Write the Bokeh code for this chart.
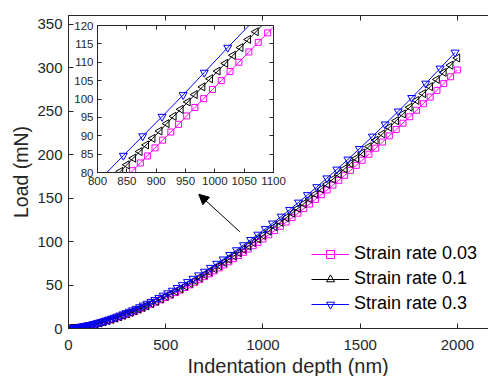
import numpy as np
from bokeh.plotting import figure
from bokeh.models import (Range1d, LinearAxis, FixedTicker, Title, Arrow, NormalHead,
                          Legend, LegendItem, ColumnDataSource, CDSView, IndexFilter,
                          CustomLabelingPolicy)
from bokeh.embed import file_html
from bokeh.resources import INLINE

FONT = "Liberation Sans"
TXT = "#262626"

# ---------------- data ----------------
depth_a = [0, 5, 10, 15, 20, 30, 40, 50, 60, 70, 80, 90, 100, 120, 140, 160, 180, 200, 220, 240,
           260, 280, 300, 320, 340, 360, 380, 400, 425, 450, 475, 500, 525, 550, 575, 600, 625,
           650, 675, 700, 725, 750, 775, 800, 825, 850, 875, 900, 925, 950, 975, 1000, 1030,
           1060, 1090, 1120, 1150, 1180, 1210, 1240, 1270, 1300, 1330, 1360, 1390, 1420, 1450,
           1480, 1510, 1545, 1580, 1615, 1650, 1685, 1720, 1755, 1790, 1825, 1860, 1895, 1930,
           1965, 2000]
load_003 = [0.0, 0.03, 0.09, 0.17, 0.26, 0.48, 0.75, 1.05, 1.39, 1.76, 2.16, 2.59, 3.04, 4.02,
            5.09, 6.24, 7.47, 8.78, 10.16, 11.60, 13.11, 14.69, 16.32, 18.02, 19.77, 21.58,
            23.44, 25.36, 27.81, 30.35, 32.98, 35.67, 38.43, 41.27, 44.17, 47.14, 50.18, 53.28,
            56.45, 59.68, 62.97, 66.32, 69.74, 73.21, 76.74, 80.33, 83.97, 87.65, 91.41, 95.22,
            99.09, 103.0, 107.77, 112.61, 117.52, 122.49, 127.57, 132.68, 137.88, 143.15, 148.48,
            153.89, 159.35, 164.88, 170.47, 176.15, 181.86, 187.64, 193.50, 200.40, 207.38,
            214.45, 221.62, 228.87, 236.15, 243.55, 251.02, 258.56, 266.19, 273.89, 281.66,
            289.52, 297.42]
load_01 = [0.0, 0.03, 0.09, 0.17, 0.26, 0.48, 0.75, 1.06, 1.40, 1.78, 2.19, 2.63, 3.09, 4.09,
           5.19, 6.36, 7.63, 8.97, 10.39, 11.88, 13.44, 15.07, 16.76, 18.51, 20.32, 22.18, 24.12,
           26.10, 28.64, 31.29, 34.00, 36.81, 39.66, 42.63, 45.63, 48.74, 51.89, 55.14, 58.43,
           61.77, 65.24, 68.71, 72.25, 75.92, 79.58, 83.30, 87.16, 90.98, 94.88, 98.84, 102.95,
           107.02, 111.97, 117.11, 122.22, 127.39, 132.67, 138.12, 143.53, 149.02, 154.57,
           160.35, 166.04, 171.80, 177.63, 183.72, 189.68, 195.71, 201.82, 209.22, 216.50,
           223.89, 231.37, 238.94, 246.78, 254.51, 262.32, 270.20, 278.17, 286.49, 294.62,
           302.84, 311.10]
depth_b = [0, 2, 4, 7, 11, 15, 20, 25, 30, 36, 42, 48, 55, 62, 70, 78, 86, 95, 104, 114, 124,
           134, 145, 156, 168, 180, 193, 206, 220, 234, 249, 264, 280, 296, 313, 330, 348, 366,
           385, 404, 424, 444, 465, 487, 510, 534, 559, 585, 612, 640, 669, 699, 730, 762, 795,
           829, 864, 900, 937, 974, 1012, 1049, 1094, 1137, 1183, 1229, 1277, 1329, 1380, 1437,
           1496, 1563, 1628, 1696, 1765, 1837, 1911, 1988]
load_03 = [0.0, 0.01, 0.03, 0.06, 0.12, 0.20, 0.31, 0.43, 0.56, 0.74, 0.94, 1.15, 1.41, 1.69,
           2.03, 2.39, 2.77, 3.22, 3.69, 4.24, 4.81, 5.41, 6.09, 6.80, 7.61, 8.45, 9.38, 10.36,
           11.44, 12.55, 13.79, 15.06, 16.46, 17.90, 19.47, 21.09, 22.85, 24.66, 26.62, 28.63,
           30.79, 33.01, 35.40, 37.96, 40.70, 43.62, 46.75, 50.07, 53.60, 57.34, 61.31, 65.52,
           69.95, 74.63, 79.57, 84.76, 90.21, 95.94, 101.97, 108.11, 114.54, 120.92, 128.84,
           136.57, 145.00, 153.60, 162.74, 172.84, 182.97, 194.50, 206.69, 220.84, 234.86,
           249.81, 265.32, 281.78, 299.12, 317.50]

inset_depth_003 = [850, 860, 873, 885, 898, 911, 925, 938, 952, 966, 981, 996, 1011, 1026, 1041,
                   1058, 1074, 1090, 1106]
inset_load_003 = [78.9, 80.5, 82.6, 84.5, 86.7, 88.8, 91.0, 93.1, 95.4, 97.7, 100.1, 102.6, 105.0,
                  107.5, 110.0, 112.8, 115.4, 118.0, 120.6]
inset_depth_01 = [825, 839, 850, 861, 872, 883, 894, 906, 918, 930, 942, 954, 966, 979, 992, 1005,
                  1018, 1031, 1044, 1057, 1070, 1085]
inset_load_01 = [78.0, 80.3, 82.1, 83.9, 85.7, 87.5, 89.3, 91.3, 93.3, 95.3, 97.2, 99.2, 101.2,
                 103.3, 105.5, 107.6, 109.7, 111.9, 114.0, 116.2, 118.3, 120.8]
inset_depth_03 = [805, 844, 877, 910, 946, 982, 1022, 1066]
inset_load_03 = [78.2, 84.6, 89.9, 95.2, 101.1, 107.2, 114.0, 121.3]

x_ticks = [0, 500, 1000, 1500, 2000]
y_ticks = [0, 50, 100, 150, 200, 250, 300, 350]
inset_x_ticks = [800, 850, 900, 950, 1000, 1050, 1100]
inset_y_ticks = [80, 85, 90, 95, 100, 105, 110, 115, 120]
legend_labels = ["Strain rate 0.03", "Strain rate 0.1", "Strain rate 0.3"]
x_title = "Indentation depth (nm)"
y_title = "Load (mN)"

# arrow (annotation) from near the curve to the inset
arrow_from = (881, 111.3)
arrow_to = (670, 154.4)

MAG, BLK, BLU = "#FF00FF", "#000000", "#0000FF"

NO_LABELS = CustomLabelingPolicy(code="return new Set()")


def style_axis(ax, fs, standoff, tick_in, show_labels=True):
    ax.axis_line_color = TXT
    ax.axis_line_width = 1
    ax.major_tick_line_color = TXT
    ax.major_tick_in = tick_in
    ax.major_tick_out = 0
    ax.minor_tick_line_color = None
    ax.major_label_text_font = FONT
    ax.major_label_text_color = TXT
    ax.major_label_standoff = standoff
    if show_labels:
        ax.major_label_text_font_size = fs
    else:
        ax.major_label_text_font_size = "0px"
        ax.major_label_policy = NO_LABELS


# ---------------- main figure ----------------
p = figure(width=488, height=376, x_range=Range1d(0, 2160), y_range=Range1d(0, 360),
           output_backend="svg", toolbar_location=None,
           min_border_left=68, min_border_right=0, min_border_top=15, min_border_bottom=48)
p.grid.visible = False
p.outline_line_color = None
p.background_fill_color = "white"
p.border_fill_color = "white"

top_ax = LinearAxis()
p.add_layout(top_ax, "above")
for ax in p.xaxis:
    ax.ticker = FixedTicker(ticks=x_ticks)
for ax in p.yaxis:
    ax.ticker = FixedTicker(ticks=y_ticks)
style_axis(p.below[0], "15px", 11, 5)
style_axis(top_ax, "15px", 0, 5, show_labels=False)
style_axis(p.left[0], "15px", 6, 5)
p.left[0].axis_label = y_title
p.left[0].axis_label_text_font = FONT
p.left[0].axis_label_text_font_size = "19.5px"
p.left[0].axis_label_text_font_style = "normal"
p.left[0].axis_label_text_color = TXT
p.left[0].axis_label_standoff = 2

src_a = ColumnDataSource(dict(x=depth_a, y3=load_003, y1=load_01))
src_b = ColumnDataSource(dict(x=depth_b, y=load_03))

l1 = p.line("x", "y3", source=src_a, color=MAG, line_width=1)
m1 = p.scatter("x", "y3", source=src_a, marker="square", size=6, line_color=MAG,
               fill_color=None, line_width=1)
l2 = p.line("x", "y1", source=src_a, color=BLK, line_width=1)
m2 = p.scatter("x", "y1", source=src_a, marker="triangle", angle=np.pi / 2, size=8,
               line_color=BLK, fill_color=None, line_width=1)
l3 = p.line("x", "y", source=src_b, color=BLU, line_width=1)
m3 = p.scatter("x", "y", source=src_b, marker="inverted_triangle", size=8, line_color=BLU,
               fill_color=None, line_width=1)

legend = Legend(items=[LegendItem(label=legend_labels[0], renderers=[l1, m1]),
                       LegendItem(label=legend_labels[1], renderers=[l2, m2]),
                       LegendItem(label=legend_labels[2], renderers=[l3, m3])],
                location=(243, 14), border_line_color=None, background_fill_alpha=0,
                label_text_font=FONT, label_text_font_size="18px", label_text_color="#000000",
                glyph_width=38, glyph_height=20, label_height=20, spacing=4, padding=0,
                margin=0, label_standoff=5)
p.add_layout(legend)

p.add_layout(Title(text=x_title, align="left", offset=119, standoff=0,
                   text_font=FONT, text_font_size="20px", text_font_style="normal",
                   text_color=TXT), "below")

p.add_layout(Arrow(end=NormalHead(size=10, fill_color="black", line_color="black"),
                   x_start=arrow_from[0], y_start=arrow_from[1],
                   x_end=arrow_to[0], y_end=arrow_to[1], line_color="black", line_width=1))

# ---------------- inset ----------------
inset = figure(frame_width=176, frame_height=147, x_range=Range1d(800, 1100),
               y_range=Range1d(80, 120),
               output_backend="svg", toolbar_location=None,
               min_border_left=32, min_border_right=16, min_border_top=5, min_border_bottom=24)
inset.grid.visible = False
inset.outline_line_color = TXT
inset.background_fill_color = "white"
inset.border_fill_alpha = 0
inset_top = LinearAxis()
inset_right = LinearAxis()
inset.add_layout(inset_top, "above")
inset.add_layout(inset_right, "right")
for ax in inset.xaxis:
    ax.ticker = FixedTicker(ticks=inset_x_ticks)
for ax in inset.yaxis:
    ax.ticker = FixedTicker(ticks=inset_y_ticks)
style_axis(inset.below[0], "11.5px", 4, 4)
style_axis(inset.left[0], "11.5px", 4, 4)
style_axis(inset_top, "11.5px", 0, 4, show_labels=False)
style_axis(inset_right, "11.5px", 0, 4, show_labels=False)

s1 = ColumnDataSource(dict(x=inset_depth_003, y=inset_load_003))
s2 = ColumnDataSource(dict(x=inset_depth_01, y=inset_load_01))
s3 = ColumnDataSource(dict(x=inset_depth_03, y=inset_load_03))
v1 = CDSView(filter=IndexFilter(list(range(1, len(inset_depth_003) - 1))))
v2 = CDSView(filter=IndexFilter(list(range(1, len(inset_depth_01) - 1))))
v3 = CDSView(filter=IndexFilter(list(range(1, len(inset_depth_03) - 1))))

inset.line("x", "y", source=s1, color=MAG, line_width=1)
inset.scatter("x", "y", source=s1, view=v1, marker="square", size=6, line_color=MAG,
              fill_color=None, line_width=1)
inset.line("x", "y", source=s2, color=BLK, line_width=1)
inset.scatter("x", "y", source=s2, view=v2, marker="triangle", angle=np.pi / 2, size=8,
              line_color=BLK, fill_color=None, line_width=1)
inset.line("x", "y", source=s3, color=BLU, line_width=1)
inset.scatter("x", "y", source=s3, view=v3, marker="inverted_triangle", size=8,
              line_color=BLU, fill_color=None, line_width=1)

inset.styles = {"position": "absolute", "left": "65px", "top": "20px", "z-index": "10"}

open("out.html", "w").write(file_html([p, inset], INLINE))
